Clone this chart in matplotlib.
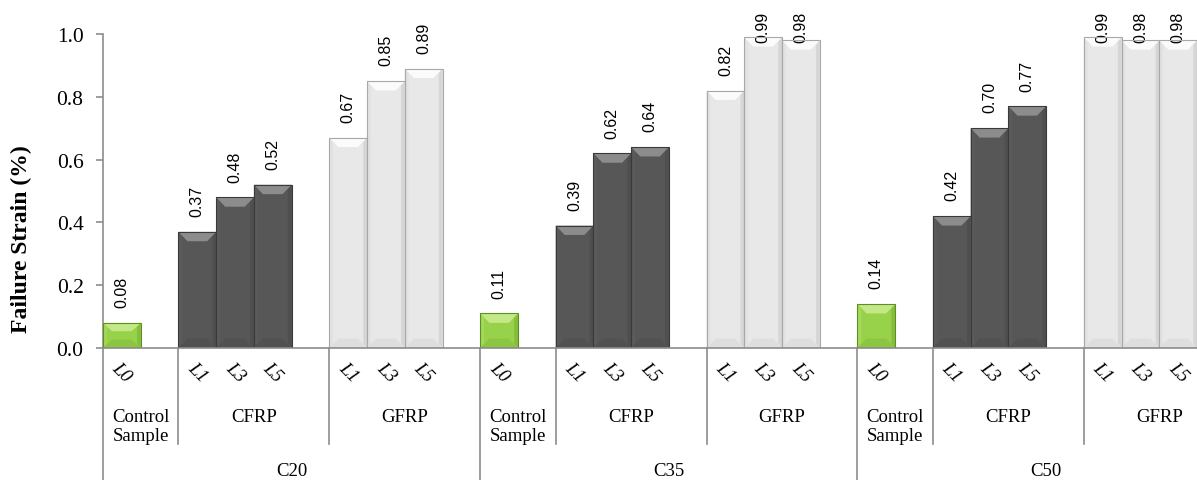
import matplotlib.pyplot as plt
from matplotlib.patches import Polygon, Rectangle

# failure strain (%) per concrete grade: control, CFRP L1/L3/L5, GFRP L1/L3/L5
grades = ['C20', 'C35', 'C50']
systems = ['Control\nSample', 'CFRP', 'GFRP']
layers = [['L0'], ['L1', 'L3', 'L5'], ['L1', 'L3', 'L5']]
control = [0.08, 0.11, 0.14]
cfrp = [[0.37, 0.48, 0.52], [0.39, 0.62, 0.64], [0.42, 0.70, 0.77]]
gfrp = [[0.67, 0.85, 0.89], [0.82, 0.99, 0.98], [0.99, 0.98, 0.98]]

# bevelled bar shades: face, top, bottom, left, right, edge
shades = {
    'Control\nSample': ['#98d14a', '#c2e887', '#8cc53f', '#a3d858', '#86bd3b', '#5f8f22'],
    'CFRP': ['#575757', '#8c8c8c', '#515151', '#5b5b5b', '#4f4f4f', '#3a3a3a'],
    'GFRP': ['#e8e8e8', '#fbfbfb', '#dedede', '#e2e2e2', '#d6d6d6', '#a8a8a8'],
}
axis_col = '#8c8c8c'
serif = 'Liberation Serif'
sans = 'Liberation Sans'

fig = plt.figure(figsize=(11.97, 4.81), dpi=100)
ax = fig.add_axes([103 / 1197, 132 / 481, 1094 / 1197, 314 / 481])
ax.set_xlim(0, 29)
ax.set_ylim(0, 1.0)

bx, by = 0.24, 0.03  # bevel depth in data units
sx = 0.1             # side band width


def bevel_bar(x0, h, cols):
    face, top, bot, left, right, edge = cols
    x1 = x0 + 1
    d = min(by, h / 3)
    ax.add_patch(Rectangle((x0, 0), 1, h, facecolor=face, edgecolor='none', zorder=2))
    ax.add_patch(Polygon([(x0, 0), (x0 + sx, d / 2), (x0 + sx, h - d / 2), (x0, h)],
                         facecolor=left, edgecolor='none', zorder=3))
    ax.add_patch(Polygon([(x1, 0), (x1 - sx, d / 2), (x1 - sx, h - d / 2), (x1, h)],
                         facecolor=right, edgecolor='none', zorder=3))
    ax.add_patch(Polygon([(x0, h), (x1, h), (x1 - bx, h - d), (x0 + bx, h - d)],
                         facecolor=top, edgecolor='none', zorder=3))
    ax.add_patch(Polygon([(x0, 0), (x1, 0), (x1 - bx, d), (x0 + bx, d)],
                         facecolor=bot, edgecolor='none', zorder=3))
    ax.add_patch(Rectangle((x0, 0), 1, h, facecolor='none', edgecolor=edge, lw=0.8, zorder=4))


xt = ax.get_xaxis_transform()
sep_kw = dict(color=axis_col, lw=1.2, transform=xt, clip_on=False, zorder=1)

for g, grade in enumerate(grades):
    base = g * 10
    series = [[control[g]], cfrp[g], gfrp[g]]
    starts = [0, 2, 6]
    spans = [2, 4, 4]
    for s, sysname in enumerate(systems):
        x_sys = base + starts[s]
        for k, (lab, v) in enumerate(zip(layers[s], series[s])):
            x0 = x_sys + k
            bevel_bar(x0, v, shades[sysname])
            ybase = min(v + 0.05, 0.975)
            ax.text(x0 + 0.5, ybase, f'{v:.2f}', rotation=90, ha='center', va='bottom',
                    family=sans, fontsize=11.5, color='black', clip_on=False)
            ax.text(x0 + 0.5, -0.076, lab, rotation=-45, ha='center', va='center',
                    rotation_mode='anchor', family=serif, style='italic', fontsize=13.5)
        ax.text(x_sys + spans[s] / 2, -0.19, sysname, ha='center', va='top',
                family=serif, fontsize=13.5, linespacing=1.15)
        if s > 0:
            ax.plot([x_sys, x_sys], [0, -0.306], **sep_kw)
    ax.plot([base, base], [0, -0.42], **sep_kw)
    ax.text(base + 5, -0.39, grade, ha='center', va='center', family=serif, fontsize=13.5)

for side in ['top', 'right']:
    ax.spines[side].set_visible(False)
for side in ['left', 'bottom']:
    ax.spines[side].set_color(axis_col)
    ax.spines[side].set_linewidth(1.2)
ax.spines['bottom'].set_zorder(5)

ax.set_xticks([])
ax.set_yticks([0, 0.2, 0.4, 0.6, 0.8, 1.0])
ax.set_yticklabels([f'{t:.1f}' for t in [0, 0.2, 0.4, 0.6, 0.8, 1.0]], family=serif, fontsize=15.5)
ax.tick_params(axis='y', direction='out', length=5, width=1.2, color=axis_col, pad=9)
ax.set_ylabel('Failure Strain (%)', family=serif, fontsize=17, fontweight='bold')
ax.yaxis.set_label_coords(-0.065, 0.35)

fig.savefig('out.png', dpi=100)
